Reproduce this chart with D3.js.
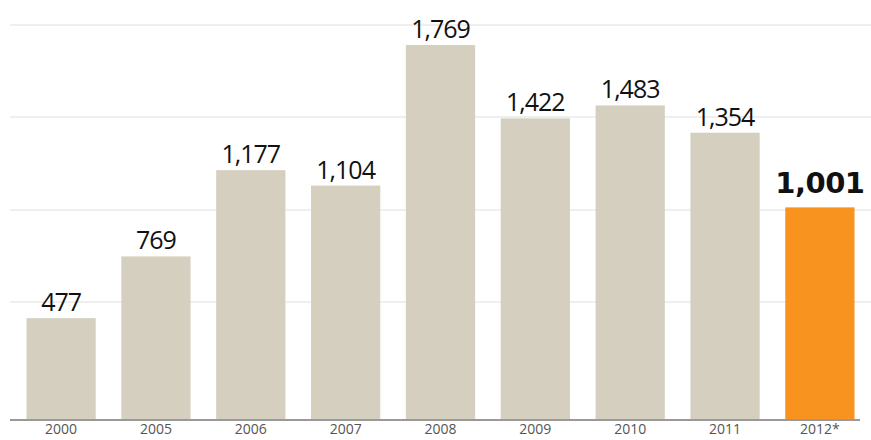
<!DOCTYPE html>
<html>
<head>
<meta charset="utf-8">
<script src="https://cdn.jsdelivr.net/npm/d3@7"></script>
<style>
  body { margin: 0; background: #fff; }
</style>
</head>
<body>
<div id="chart"></div>
<script>
// values
const years = ['2000', '2005', '2006', '2007', '2008', '2009', '2010', '2011', '2012*']
const counts = [477, 769, 1177, 1104, 1769, 1422, 1483, 1354, 1001]
const gridValues = [553, 989, 1429, 1864]

const width = 871
const height = 440
const baseY = 419

const data = years.map((y, i) => ({year: y, value: counts[i], last: i === years.length - 1}))

const svg = d3.select('#chart')
  .append('svg')
  .attr('width', width)
  .attr('height', height)

const xScale = d3.scaleBand()
  .domain(years)
  .range([17, 864])
  .paddingInner(0.27)
  .paddingOuter(0.1)

const yMax = d3.max(counts)
const yScale = d3.scaleLinear()
  .domain([0, yMax])
  .range([baseY, 45])

// faint grid
svg.append('g')
  .selectAll('line')
  .data(gridValues)
  .join('line')
  .attr('x1', 10)
  .attr('x2', width)
  .attr('y1', d => yScale(d))
  .attr('y2', d => yScale(d))
  .attr('stroke', '#efefef')
  .attr('stroke-width', 2)

svg.append('g')
  .selectAll('rect')
  .data(data)
  .join('rect')
  .attr('x', d => xScale(d.year))
  .attr('y', d => yScale(d.value))
  .attr('width', xScale.bandwidth())
  .attr('height', d => baseY - yScale(d.value))
  .attr('fill', d => d.last ? '#f7931e' : '#d4cfbf')

// value labels
svg.append('g')
  .selectAll('text')
  .data(data)
  .join('text')
  .attr('x', d => xScale(d.year) + xScale.bandwidth() / 2)
  .attr('y', d => yScale(d.value) - (d.last ? 14 : 7))
  .attr('text-anchor', 'middle')
  .style('font-family', d => d.last ? 'DejaVu Sans' : '"Open Sans", sans-serif')
  .style('font-weight', d => d.last ? 'bold' : 'normal')
  .style('font-size', d => d.last ? '29px' : '25px')
  .attr('fill', '#111')
  .attr('letter-spacing', d => d.last ? '-0.5px' : '-1px')
  .text(d => d3.format(',')(d.value))

// baseline + year labels
const xAxis = d3.axisBottom(xScale).tickSize(0).tickPadding(5)
const axisG = svg.append('g')
  .attr('transform', 'translate(' + [0, baseY] + ')')
  .call(xAxis)
axisG.select('.domain').remove()
axisG.selectAll('text')
  .style('font-family', '"Open Sans", sans-serif')
  .style('font-size', '14px')
  .attr('fill', '#555')

svg.append('line')
  .attr('x1', 10)
  .attr('x2', 860)
  .attr('y1', baseY + 1)
  .attr('y2', baseY + 1)
  .attr('stroke', '#999')
  .attr('stroke-width', 2)
</script>
</body>
</html>
